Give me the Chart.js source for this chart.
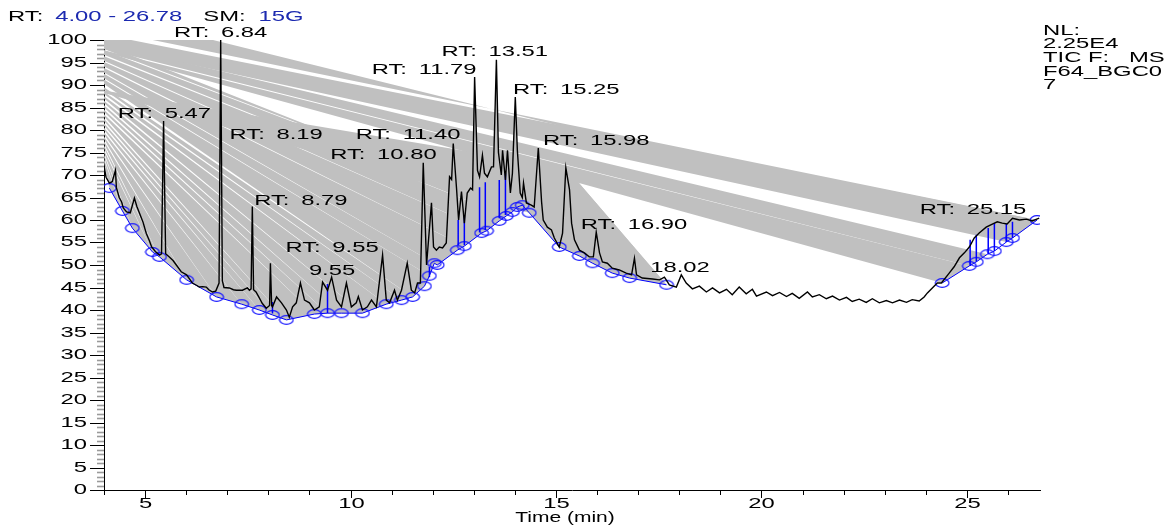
<!DOCTYPE html>
<html>
<head>
<meta charset="utf-8">
<script src="https://cdn.jsdelivr.net/npm/chart.js@4.4.0/dist/chart.umd.min.js"></script>
<style>
  html, body { margin: 0; padding: 0; background: #fff; }
  #wrap { width: 1168px; height: 527px; }
</style>
</head>
<body>
<div id="wrap"><canvas id="myChart"></canvas></div>
<script>
// TIC trace (retention time in min, relative abundance)
const ticT = [4.00,4.05,4.13,4.20,4.28,4.30,4.37,4.43,4.47,4.55,
  4.64,4.74,4.80,4.86,4.95,5.03,5.10,5.16,5.25,5.35,
  5.40,5.45,5.50,5.59,5.68,5.76,5.88,6.01,6.15,6.25,
  6.32,6.40,6.49,6.55,6.64,6.72,6.80,6.84,6.88,6.92,
  7.05,7.15,7.22,7.37,7.49,7.54,7.58,7.61,7.64,7.70,
  7.78,7.85,7.95,8.03,8.05,8.08,8.10,8.20,8.32,8.44,
  8.51,8.59,8.68,8.78,8.88,9.00,9.12,9.24,9.32,9.44,
  9.54,9.66,9.78,9.90,10.02,10.14,10.19,10.29,10.41,10.51,
  10.63,10.78,10.87,10.95,11.07,11.14,11.24,11.38,11.48,11.56,
  11.63,11.70,11.77,11.85,11.97,12.02,12.09,12.16,12.24,12.33,
  12.41,12.46,12.50,12.58,12.63,12.70,12.77,12.84,12.92,12.97,
  13.02,13.09,13.14,13.21,13.26,13.33,13.43,13.48,13.55,13.60,
  13.67,13.70,13.77,13.82,13.89,13.94,14.01,14.06,14.13,14.18,
  14.21,14.28,14.40,14.47,14.57,14.65,14.69,14.79,14.89,14.96,
  15.08,15.16,15.24,15.33,15.38,15.45,15.57,15.69,15.81,15.91,
  15.98,16.06,16.13,16.25,16.37,16.54,16.71,16.84,16.91,16.96,
  17.10,17.35,17.52,17.64,17.76,17.93,18.05,18.17,18.32,18.49,
  18.66,18.81,18.98,19.15,19.29,19.46,19.63,19.78,19.88,20.12,
  20.27,20.44,20.61,20.75,20.92,21.12,21.24,21.41,21.58,21.73,
  21.90,22.07,22.21,22.38,22.55,22.70,22.87,23.04,23.19,23.36,
  23.53,23.67,23.84,23.96,24.04,24.16,24.28,24.38,24.57,24.69,
  24.82,24.94,25.06,25.18,25.30,25.47,25.62,25.74,25.86,25.98,
  26.11,26.28,26.45,26.59,26.76];
const ticV = [72,69.5,68.2,68.5,71.1,67.3,65,64,62.7,61.8,
  61.6,64.9,63,61.6,59.5,57,55.5,54,53,52.2,
  52.5,82,52.5,51.8,51,50,48.5,47.8,46,45.5,
  45.1,45.2,45.1,44.5,44,44.2,46,100,46.5,45,
  44.9,44.5,44.4,44.4,44.9,44.4,44.7,63,44.5,44,
  42.7,41.5,40.4,41,50.4,41,40.7,42.9,41.6,40,
  38.4,40.7,41.6,46,42.2,41.6,40,40.7,46.2,44.4,
  47.3,42.2,40.7,46,40.7,41.6,43,40,40.7,42.2,
  40.7,52.2,42.2,41.6,44.4,42.2,44.4,50.4,44.4,43.8,
  46,46,72.7,50,63.8,54,53.3,54,53.8,54.9,
  69.6,69,77,67,60,66.3,59.3,66,67.1,66.7,
  91.8,71,69.6,74.4,70.4,69.6,71.8,71.8,95.6,75,
  70,75.5,68.9,75.5,66,70.4,87.3,75.5,66,65,
  68.2,63.8,63.3,62.9,76,64,60,58.4,57.8,56,
  54,57.1,71.6,66.7,59.3,55.6,53.3,52.7,51.8,51.8,
  57.3,52.7,50.7,50.4,49.3,48.9,48.2,47.8,51.5,47.8,
  47.1,46.9,46.7,47.3,45.6,45.1,47.8,46,44.7,45.3,
  44,44.9,43.8,44.6,43.4,45.1,43.6,44.6,43.1,44,
  43.2,43.9,43,43.7,42.6,44,42.9,43.4,42.5,43.1,
  42.2,42.8,41.9,42.4,41.7,42.5,41.6,42.1,41.6,42.2,
  41.7,42.3,42,42.9,43.8,44.9,46,46,48.2,49.6,
  51.6,52.7,54,56,57.1,58.4,59.1,59.6,59.3,59.1,
  60.4,60,60.2,59.8,60.4];

// integration baseline points (null = break)
const baseT = [4.13,4.45,4.69,5.18,5.35,6.01,6.74,7.35,7.78,8.10,
  8.44,9.12,9.44,9.78,10.29,10.87,11.24,11.51,11.80,11.92,
  12.04,12.11,12.60,12.77,13.19,13.31,13.62,13.79,13.94,14.06,
  14.18,14.35,15.08,15.57,15.89,16.37,16.79,17.69,null,
  24.40,25.06,25.23,25.50,25.67,25.96,26.11,26.71];
const baseV = [67.1,62,58.2,52.9,51.8,46.7,42.9,41.3,40,38.9,
  37.8,39.1,39.3,39.3,39.3,41.3,42.2,42.9,45.3,47.6,
  50.4,50,53.3,54.2,57.1,57.6,59.8,60.9,61.8,62.9,
  63.3,61.6,54,52,50.4,48.2,47.1,45.6,null,
  46,49.8,50.7,52.4,53.1,55.1,56,60];

// peak drop lines
const dropT   = [8.10, 9.44, 11.92, 12.62, 12.77, 13.14, 13.28, 13.62, 13.77, 25.08, 25.23, 25.52, 25.67, 25.96, 26.11];
const dropTop = [41.8, 45.8, 49.6, 60, 61, 67.3, 68.4, 68.9, 70.4, 55.6, 56.7, 58.2, 59.3, 59.1, 59.6];
const dropBot = [39.2, 39.3, 47.3, 54.4, 54.4, 57.3, 57.8, 60.4, 61.1, 49.8, 50.7, 52.4, 53.1, 55.1, 56];

// grey peak-area bands: left-edge value (top/bottom), baseline times, optional peak top
const fanTopV = [106, 101.2, 99.3, 97.7,
  99, 97.7, 96.4, 95.1, 93.8, 92.5, 91.2,
  88.8,
  89.5, 88.5, 87.5, 86.5, 85.5, 84.5, 83.5, 82.5, 81.5, 80.5, 79.5, 78.5, 77.5, 76.5, 75.5, 74.5, 73.5];
const fanTopT = [26.11, 26.71, 25.50, 25.06,
  14.35, 14.06, 13.79, 13.31, 12.77, 12.11, 11.92,
  17.69,
  11.51, 11.24, 10.87, 10.29, 9.78, 9.44, 9.12, 8.44, 8.10, 7.78, 7.35, 6.74, 6.01, 5.35, 5.18, 4.69, 4.45];
const fanBotT = [26.71, 25.96, 25.06, 24.40,
  14.06, 13.79, 13.31, 12.77, 12.11, 11.92, 11.51,
  14.35,
  11.24, 10.87, 10.29, 9.78, 9.44, 9.12, 8.44, 8.10, 7.78, 7.35, 6.74, 6.01, 5.35, 5.18, 4.69, 4.45, 4.13];
const fanBotV = [102.2, 98.7, 98, 97.3,
  98, 96.7, 95.4, 94.1, 92.8, 91.5, 90.2,
  88.2,
  89, 88, 87, 86, 85, 84, 83, 82, 81, 80, 79, 78, 77, 76, 75, 74, 73];
const fanPeakT = [null, null, null, null,
  null, null, null, null, null, null, null,
  15.24,
  null, null, null, null, null, null, null, null, null, null, null, null, null, null, null, null, null];

// grey fill between trace and baseline
const fillStart = [7.78, 11.51, 14.35];
const fillEnd   = [11.51, 14.35, 17.69];
const fillPeak  = [null, null, 15.24];

// peak labels
const labelText = ['RT: 6.84','RT: 5.47','RT: 8.19','RT: 8.79','RT: 9.55','9.55','RT: 10.80','RT: 11.40',
  'RT: 11.79','RT: 13.51','RT: 15.25','RT: 15.98','RT: 16.90','18.02','RT: 25.15'];
const labelT = [6.84,5.47,8.19,8.79,9.55,9.55,10.80,11.40,11.79,13.51,15.25,15.98,16.90,18.02,25.15];
const labelV = [101.5,83.5,78.9,64.3,53.7,48.7,74.4,78.9,93.3,97.3,88.9,77.6,58.9,49.4,62.1];

// header pieces: text, colour, gap after (px)
const headerParts = [['RT:', '#000', 12], ['4.00 - 26.78', '#1c2ab0', 21], ['SM:', '#000', 13], ['15G', '#1c2ab0', 0]];
const infoLines = ['NL:', '2.25E4', 'TIC F:   MS', 'F64_BGC0', '7'];

const GREY = '#c0c0c0';
const FONT = '14px "Liberation Sans", Arial, sans-serif';

function wideText(ctx, txt, x, y, align, color, stretch, gap) {
  const s = stretch || 1.7;
  ctx.save();
  ctx.font = FONT;
  ctx.fillStyle = color || '#000';
  ctx.textBaseline = 'middle';
  ctx.textAlign = 'left';
  if ('wordSpacing' in ctx) ctx.wordSpacing = (gap || 0) + 'px';
  const w = ctx.measureText(txt).width * s;
  let x0 = x;
  if (align === 'center') x0 = x - w / 2;
  else if (align === 'right') x0 = x - w;
  ctx.translate(x0, y);
  ctx.scale(s, 1);
  ctx.fillText(txt, 0, 0);
  ctx.restore();
  return w;
}

function baseIndex(t) {
  return baseT.findIndex(b => b !== null && Math.abs(b - t) < 1e-6);
}

// ellipse marker for baseline points
const ring = document.createElement('canvas');
ring.width = 16; ring.height = 12;
const rc = ring.getContext('2d');
rc.strokeStyle = '#1a1aff';
rc.lineWidth = 1.2;
rc.beginPath();
rc.ellipse(8, 6, 6.8, 4.3, 0, 0, 2 * Math.PI);
rc.stroke();

const datasets = [];

datasets.push({
  label: 'TIC',
  data: ticT.map((t, i) => ({x: t, y: ticV[i]})),
  showLine: true, borderColor: '#000', borderWidth: 1.4,
  pointRadius: 0, order: 0
});

const dropData = [];
dropT.forEach((t, i) => {
  dropData.push({x: t, y: dropBot[i]}, {x: t, y: dropTop[i]}, {x: null, y: null});
});
datasets.push({
  label: 'drops', data: dropData, showLine: true, spanGaps: false,
  borderColor: '#0000ff', borderWidth: 1.5, pointRadius: 0, order: 1
});

datasets.push({
  label: 'baseline',
  data: baseT.map((t, i) => ({x: t, y: baseV[i]})),
  showLine: true, spanGaps: false,
  borderColor: '#0000ff', borderWidth: 1,
  pointStyle: ring, pointRadius: 6, order: 2
});

// bands
fanTopV.forEach((v, i) => {
  const a = baseIndex(fanTopT[i]);
  const b = baseIndex(fanBotT[i]);
  const pts = [{x: 4, y: v}];
  if (fanPeakT[i] !== null) {
    const k = ticT.findIndex(t => Math.abs(t - fanPeakT[i]) < 1e-6);
    pts.push({x: ticT[k], y: ticV[k]});
  }
  const step = a <= b ? 1 : -1;
  for (let k = a; k !== b + step; k += step) pts.push({x: baseT[k], y: baseV[k]});
  pts.push({x: 4, y: fanBotV[i]});
  datasets.push({
    label: 'band' + i, data: pts, showLine: true,
    borderColor: 'rgba(0,0,0,0)', borderWidth: 0, pointRadius: 0,
    backgroundColor: GREY, fill: 'shape', order: 10
  });
});

// area between trace and baseline
fillStart.forEach((s, i) => {
  const e = fillEnd[i];
  const stop = fillPeak[i] === null ? e : fillPeak[i];
  const a = baseIndex(s);
  const b = baseIndex(e);
  const pts = [{x: baseT[a], y: baseV[a]}];
  ticT.forEach((t, k) => { if (t > s && t <= stop) pts.push({x: t, y: ticV[k]}); });
  for (let k = b; k >= a; k--) pts.push({x: baseT[k], y: baseV[k]});
  datasets.push({
    label: 'area' + i, data: pts, showLine: true,
    borderColor: 'rgba(0,0,0,0)', borderWidth: 0, pointRadius: 0,
    backgroundColor: GREY, fill: 'shape', order: 9
  });
});

const textPlugin = {
  id: 'textPlugin',
  afterDraw(chart) {
    const {ctx, chartArea: a, scales: {x, y}} = chart;
    ctx.save();
    // y ticks
    y.ticks.forEach(tk => {
      const v = tk.value;
      const py = Math.round(y.getPixelForValue(v)) + 0.5;
      const major = Math.abs(v % 5) < 1e-9;
      ctx.strokeStyle = major ? '#000' : '#9a9a9a';
      ctx.lineWidth = major ? 1 : 1.6;
      ctx.beginPath();
      ctx.moveTo(a.left - (major ? 14 : 7), py);
      ctx.lineTo(a.left, py);
      ctx.stroke();
      if (major) wideText(ctx, String(v), a.left - 17, py, 'right');
    });
    // x ticks
    x.ticks.forEach(tk => {
      const t = tk.value;
      const px = Math.round(x.getPixelForValue(t)) + 0.5;
      const major = Math.abs(t % 5) < 1e-9;
      ctx.strokeStyle = '#000';
      ctx.lineWidth = 1;
      ctx.beginPath();
      ctx.moveTo(px, a.bottom);
      ctx.lineTo(px, a.bottom + (major ? 8 : 5));
      ctx.stroke();
      if (major) wideText(ctx, String(t), px, a.bottom + 14, 'center');
    });
    wideText(ctx, 'Time (min)', 565, 518, 'center', '#000', 1.5);
    // header
    let hx = 8;
    headerParts.forEach(([s, c, g]) => { hx += wideText(ctx, s, hx, 17, 'left', c) + g; });
    infoLines.forEach((s, i) => wideText(ctx, s, 1043, 31 + i * 13.6, 'left'));
    // peak labels
    labelText.forEach((s, i) => {
      wideText(ctx, s, x.getPixelForValue(labelT[i]), y.getPixelForValue(labelV[i]), 'center', '#000', 1.7, 3);
    });
    ctx.restore();
  }
};

new Chart(document.getElementById('myChart'), {
  type: 'scatter',
  data: {datasets},
  options: {
    responsive: true,
    maintainAspectRatio: false,
    animation: false,
    layout: {padding: {top: 40, right: 128, left: 0, bottom: 0}},
    plugins: {legend: {display: false}, tooltip: {enabled: false}},
    scales: {
      x: {
        type: 'linear', min: 4, max: 26.78,
        ticks: {stepSize: 1, includeBounds: false, display: false, autoSkip: false},
        grid: {display: false, drawTicks: false},
        border: {display: true, color: '#000', width: 1},
        afterFit(scale) { scale.height = 37; }
      },
      y: {
        type: 'linear', min: 0, max: 100,
        ticks: {stepSize: 1, display: false, autoSkip: false},
        grid: {display: false, drawTicks: false},
        border: {display: true, color: '#000', width: 1},
        afterFit(scale) { scale.width = 104; }
      }
    }
  },
  plugins: [textPlugin]
});
</script>
</body>
</html>
